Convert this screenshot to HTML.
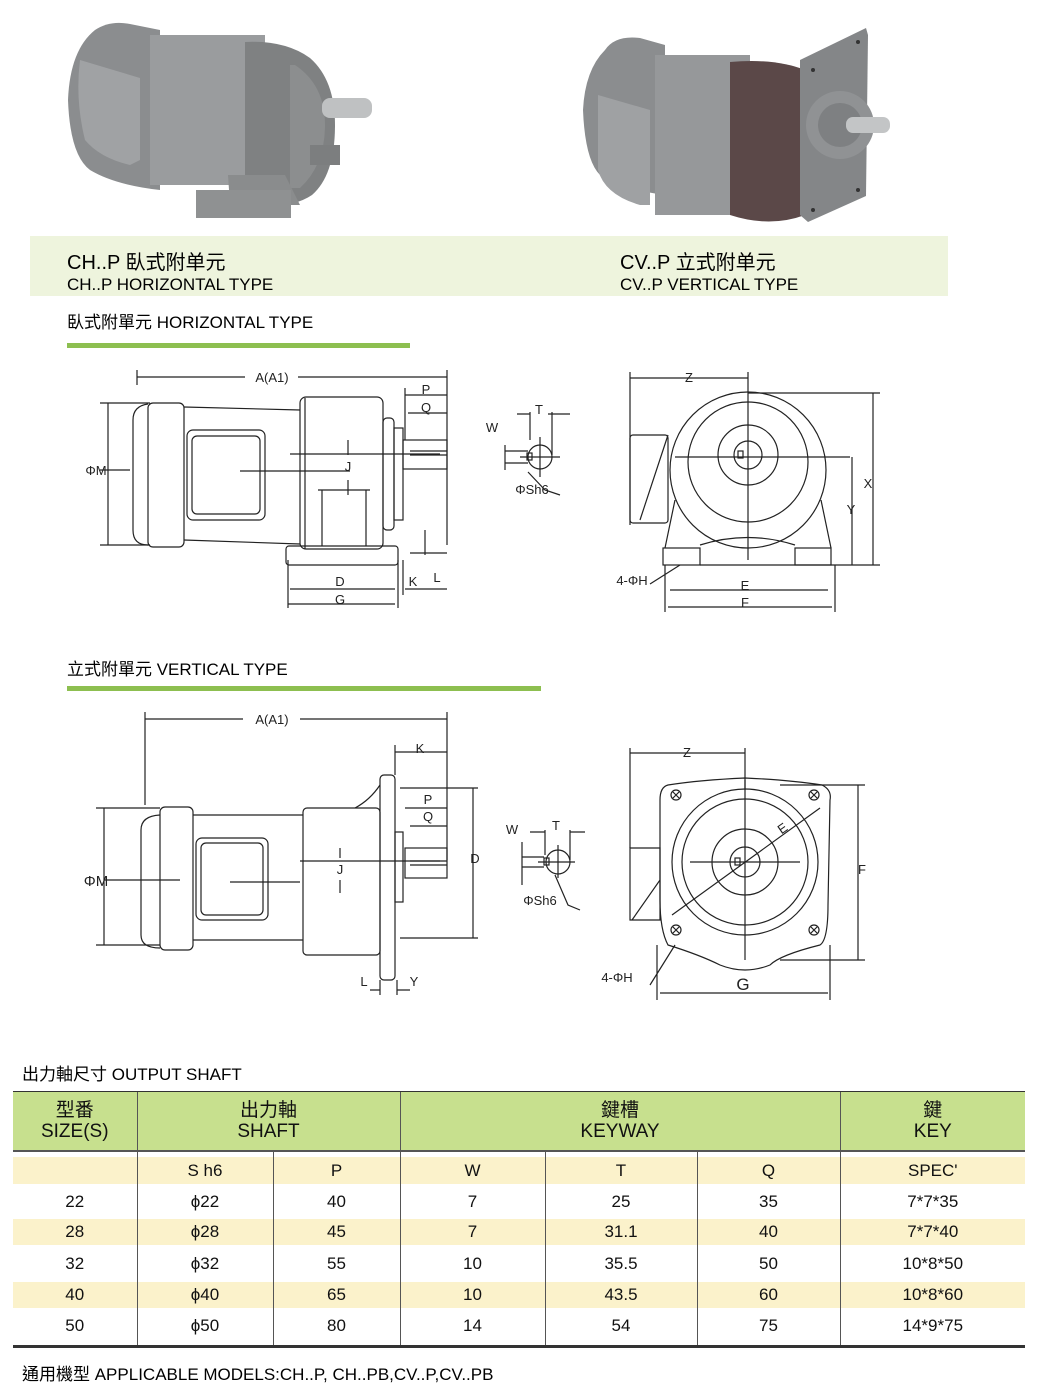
<!DOCTYPE html>
<html><head><meta charset="utf-8"><style>
html,body{margin:0;padding:0;background:#fff;}
body{width:1040px;height:1395px;position:relative;overflow:hidden;font-family:"Liberation Sans","Noto Sans CJK TC",sans-serif;color:#111;}
.abs{position:absolute;}
svg{position:absolute;left:0;top:0;}
table{border-collapse:collapse;table-layout:fixed;}
.tb{position:absolute;left:13px;top:1092px;width:1012px;}
.tb td{text-align:center;font-size:17px;padding:0;}
</style></head><body>
<svg width="1040" height="1395" viewBox="0 0 1040 1395" font-family="Liberation Sans, Noto Sans CJK TC, sans-serif">
<!-- photo 1 horizontal motor -->
<g>
<path d="M95 30 Q110 20 130 24 L160 30 L160 190 Q115 185 90 170 Q70 155 68 100 Q70 50 95 30Z" fill="#8b8d8f"/>
<rect x="150" y="35" width="115" height="150" fill="#9a9c9e"/>
<path d="M80 60 L140 78 L140 160 L130 165 Q100 158 85 140 Q75 100 80 60Z" fill="#a0a2a4"/>
<path d="M245 42 Q285 40 310 58 Q335 80 335 125 Q335 175 312 195 Q290 210 245 205Z" fill="#7f8182"/>
<path d="M295 65 Q325 85 325 125 Q325 165 300 188 L290 188 L290 65Z" fill="#8c8e8f"/>
<rect x="322" y="98" width="50" height="20" rx="8" fill="#bfc1c2"/>
<path d="M228 175 L285 175 L300 205 L230 205Z" fill="#8a8c8d"/>
<rect x="196" y="190" width="95" height="28" fill="#8f9192"/>
<rect x="310" y="145" width="30" height="20" fill="#7c7e7f"/>
</g>
<!-- photo 2 vertical motor -->
<g>
<path d="M605 50 Q615 35 640 38 L665 45 L665 195 Q625 190 600 175 Q585 160 583 110 Q585 70 605 50Z" fill="#8b8d8f"/>
<path d="M598 95 L650 110 L650 205 L640 205 Q605 195 598 170Z" fill="#9fa1a3"/>
<rect x="655" y="55" width="95" height="160" fill="#96989a"/>
<path d="M730 62 Q775 58 805 70 L805 215 Q770 228 730 215Z" fill="#5b4848"/>
<path d="M800 60 L866 28 L868 35 L866 196 L808 222 L800 215Z" fill="#848688"/>
<circle cx="840" cy="125" r="34" fill="#909294"/>
<circle cx="840" cy="125" r="22" fill="#7e8082"/>
<rect x="846" y="117" width="44" height="16" rx="7" fill="#c3c5c6"/>
<circle cx="813" cy="70" r="2" fill="#333"/><circle cx="858" cy="42" r="2" fill="#333"/><circle cx="858" cy="190" r="2" fill="#333"/><circle cx="813" cy="210" r="2" fill="#333"/>
</g>
<!-- caption band -->
<rect x="30" y="236" width="918" height="60" fill="#eef4dd"/>
<text x="67" y="269" font-size="20">CH..P 臥式附单元</text>
<text x="67" y="290" font-size="17">CH..P HORIZONTAL TYPE</text>
<text x="620" y="269" font-size="20">CV..P 立式附单元</text>
<text x="620" y="290" font-size="17">CV..P  VERTICAL TYPE</text>
<text x="67" y="328" font-size="17">臥式附單元 HORIZONTAL TYPE</text>
<rect x="67" y="343" width="343" height="5" fill="#8dbf50"/>
<text x="67" y="675" font-size="17">立式附單元 VERTICAL TYPE</text>
<rect x="67" y="686" width="474" height="5" fill="#8dbf50"/>

<g fill="none" stroke="#222" stroke-width="1.2">
<!-- horizontal side view -->
<path d="M148 404 Q133 406 133 420 L133 530 Q133 545 148 545"/>
<rect x="148" y="403" width="36" height="144" rx="5"/>
<path d="M184 407 L300 410 M184 540 L300 544"/>
<rect x="187" y="430" width="78" height="90" rx="6"/>
<rect x="192" y="436" width="68" height="78" rx="5"/>
<rect x="300" y="397" width="83" height="152" rx="6"/>
<path d="M305 398 L305 549"/>
<rect x="383" y="418" width="11" height="112" rx="4"/>
<rect x="394" y="428" width="9" height="92"/>
<rect x="403" y="440" width="44" height="29"/>
<path d="M410 455 L447 455 M410 451 L447 451"/>
<path d="M318 490 L370 490 M322 490 L322 546 M366 490 L366 546"/>
<rect x="286" y="546" width="112" height="19" rx="3"/>
<path d="M137 370 L137 385 M447 370 L447 545 M108 403 L108 545 M100 403 L150 403 M100 545 L150 545 M100 470 L130 470 M240 471 L350 471"/>
<path d="M137 377 L245 377 M298 377 L447 377"/>
<path d="M405 395 L447 395 M408 413 L447 413 M405 388 L405 440"/>
<path d="M348 440 L348 455 M348 480 L348 495 M290 454 L440 454"/>
<path d="M288 560 L288 608 M398 560 L398 608 M403 560 L403 595 M290 589 L395 589 M288 604 L395 604 M405 589 L447 589 M425 530 L425 555 M410 553 L447 553"/>
<circle cx="540" cy="457" r="12"/>
<path d="M520 457 L560 457 M540 437 L540 477 M505 445 L505 470 M505 451 L528 451 M505 463 L528 463 M517 414 L530 414 M548 414 L570 414 M552 412 L552 455 M530 412 L530 440 M528 472 L545 490 L560 495"/>
<rect x="527" y="453" width="5" height="7"/>
<circle cx="748" cy="470" r="78"/>
<circle cx="748" cy="462" r="60"/>
<circle cx="748" cy="455" r="30"/>
<circle cx="748" cy="455" r="14"/>
<rect x="738" y="451" width="5" height="7"/>
<rect x="630" y="435" width="38" height="88" rx="3"/>
<path d="M668 435 L640 520"/>
<path d="M675 500 L665 548 M821 500 L831 548 M700 545 Q748 530 795 545"/>
<rect x="663" y="548" width="37" height="17"/>
<rect x="795" y="548" width="36" height="17"/>
<path d="M630 372 L630 525 M748 372 L748 560 M630 378 L748 378 M675 457 L850 457 M748 393 L880 393 M873 393 L873 565 M852 457 L852 565 M700 565 L880 565 M665 565 L665 612 M835 565 L835 612 M670 590 L828 590 M668 607 L832 607 M650 584 L680 565"/>
</g>

<g fill="none" stroke="#222" stroke-width="1.2">
<path d="M160 815 Q141 816 141 830 L141 935 Q141 948 160 948"/>
<rect x="160" y="807" width="33" height="143" rx="5"/>
<path d="M193 815 L303 815 M193 940 L303 940"/>
<rect x="196" y="838" width="72" height="82" rx="6"/>
<rect x="201" y="843" width="62" height="72" rx="5"/>
<rect x="303" y="808" width="77" height="147" rx="4"/>
<rect x="380" y="775" width="15" height="205" rx="4"/>
<path d="M355 808 Q370 800 380 785"/>
<rect x="395" y="832" width="8" height="70"/>
<rect x="405" y="848" width="42" height="30"/>
<path d="M410 861 L447 861 M410 865 L447 865"/>
<path d="M145 712 L145 805 M447 712 L447 860 M145 719 L243 719 M300 719 L447 719 M395 745 L395 775 M395 752 L447 752"/>
<path d="M104 808 L104 945 M96 808 L160 808 M96 945 L160 945 M104 880 L180 880 M230 882 L300 882"/>
<path d="M405 808 L447 808 M410 826 L447 826 M400 788 L478 788 M400 938 L478 938 M473 788 L473 938"/>
<path d="M340 848 L340 858 M340 880 L340 893 M300 861 L440 861"/>
<path d="M380 980 L380 995 M397 980 L397 995 M370 990 L380 990 M397 990 L410 990"/>
<circle cx="558" cy="862" r="12"/>
<path d="M538 862 L575 862 M558 845 L558 878 M522 842 L522 885 M522 857 L544 857 M522 867 L544 867 M530 832 L545 832 M570 832 L585 832 M545 830 L545 855 M570 830 L570 860 M555 875 L568 905 L580 910"/>
<rect x="544" y="858" width="5" height="7"/>
<path d="M668 785 Q700 780 745 778 Q790 780 822 785 Q832 790 830 800 L828 905 Q828 940 820 945 Q780 955 770 965 Q745 975 720 965 Q700 955 668 945 Q660 930 660 900 L660 800 Q660 787 668 785Z"/>
<circle cx="745" cy="862" r="73"/>
<circle cx="745" cy="862" r="63"/>
<circle cx="745" cy="862" r="33"/>
<circle cx="745" cy="862" r="15"/>
<rect x="735" y="858" width="5" height="7"/>
<circle cx="676" cy="795" r="5"/><circle cx="814" cy="795" r="5"/><circle cx="676" cy="930" r="5"/><circle cx="814" cy="930" r="5"/>
<path d="M673 792 L679 798 M679 792 L673 798 M811 792 L817 798 M817 792 L811 798 M673 927 L679 933 M679 927 L673 933 M811 927 L817 933 M817 927 L811 933"/>
<path d="M630 848 L660 848 L660 920 L630 920 Z M660 880 L632 920"/>
<path d="M672 915 L820 808 M690 862 L800 862 M745 780 L745 960"/>
<path d="M630 748 L630 848 M630 753 L745 753 M745 748 L745 790 M780 785 L865 785 M780 960 L865 960 M858 785 L858 960 M657 945 L657 1000 M830 945 L830 1000 M660 993 L828 993 M650 985 L675 945"/>
</g>

<g font-size="13" fill="#222" text-anchor="middle">
<text x="272" y="382">A(A1)</text><text x="426" y="394">P</text><text x="426" y="412">Q</text>
<text x="96" y="475">ΦM</text><text x="348" y="471">J</text><text x="340" y="586">D</text><text x="340" y="604">G</text>
<text x="413" y="586">K</text><text x="437" y="582">L</text>
<text x="492" y="432">W</text><text x="539" y="414">T</text><text x="532" y="494">ΦSh6</text>
<text x="689" y="382">Z</text><text x="868" y="488">X</text><text x="851" y="514">Y</text>
<text x="745" y="590">E</text><text x="745" y="607">F</text><text x="632" y="585">4-ΦH</text>
<text x="272" y="724">A(A1)</text><text x="420" y="753">K</text><text x="428" y="804">P</text><text x="428" y="821">Q</text>
<text x="96" y="886" font-size="15">ΦM</text><text x="340" y="874">J</text><text x="475" y="863">D</text>
<text x="364" y="986">L</text><text x="414" y="986">Y</text>
<text x="512" y="834">W</text><text x="556" y="830">T</text><text x="540" y="905">ΦSh6</text>
<text x="687" y="757">Z</text><text x="862" y="874">F</text><text x="785" y="832" transform="rotate(-35 785 832)">E</text>
<text x="617" y="982">4-ΦH</text><text x="743" y="990" font-size="17">G</text>
</g>
<text x="22" y="1080" font-size="17">出力軸尺寸 OUTPUT SHAFT</text>
<text x="22" y="1380" font-size="17">通用機型 APPLICABLE MODELS:CH..P, CH..PB,CV..P,CV..PB</text>
</svg>

<div class="abs" style="left:13px;top:1091px;width:1012px;height:2px;background:#333"></div>
<table class="tb">
<colgroup><col style="width:124px"><col style="width:136px"><col style="width:127px"><col style="width:145px"><col style="width:152px"><col style="width:143px"><col style="width:185px"></colgroup>
<tr style="background:#c7e08e;height:59px;border-bottom:2px solid #555">
<td style="font-size:19px;line-height:21px;border-right:1px solid #555">型番<br>SIZE(S)</td>
<td colspan="2" style="font-size:19px;line-height:21px;border-right:1px solid #555">出力軸<br>SHAFT</td>
<td colspan="3" style="font-size:19px;line-height:21px;border-right:1px solid #555">鍵槽<br>KEYWAY</td>
<td style="font-size:19px;line-height:21px">鍵<br>KEY</td>
</tr>
<tr style="height:6px"><td style="border-right:1px solid #555"></td><td style="border-right:1px solid #555"></td><td style="border-right:1px solid #555"></td><td style="border-right:1px solid #555"></td><td style="border-right:1px solid #555"></td><td style="border-right:1px solid #555"></td><td></td></tr>
<tr style="background:#fbf2cb;height:27px;font-size:15px"><td style="border-right:1px solid #555"></td><td style="border-right:1px solid #555">S h6</td><td style="border-right:1px solid #555">P</td><td style="border-right:1px solid #555">W</td><td style="border-right:1px solid #555">T</td><td style="border-right:1px solid #555">Q</td><td>SPEC'</td></tr>
<tr style="height:35px"><td style="border-right:1px solid #555">22</td><td style="border-right:1px solid #555">ϕ22</td><td style="border-right:1px solid #555">40</td><td style="border-right:1px solid #555">7</td><td style="border-right:1px solid #555">25</td><td style="border-right:1px solid #555">35</td><td>7*7*35</td></tr>
<tr style="height:26px;background:#fbf2cb"><td style="border-right:1px solid #555">28</td><td style="border-right:1px solid #555">ϕ28</td><td style="border-right:1px solid #555">45</td><td style="border-right:1px solid #555">7</td><td style="border-right:1px solid #555">31.1</td><td style="border-right:1px solid #555">40</td><td>7*7*40</td></tr>
<tr style="height:37px"><td style="border-right:1px solid #555">32</td><td style="border-right:1px solid #555">ϕ32</td><td style="border-right:1px solid #555">55</td><td style="border-right:1px solid #555">10</td><td style="border-right:1px solid #555">35.5</td><td style="border-right:1px solid #555">50</td><td>10*8*50</td></tr>
<tr style="height:26px;background:#fbf2cb"><td style="border-right:1px solid #555">40</td><td style="border-right:1px solid #555">ϕ40</td><td style="border-right:1px solid #555">65</td><td style="border-right:1px solid #555">10</td><td style="border-right:1px solid #555">43.5</td><td style="border-right:1px solid #555">60</td><td>10*8*60</td></tr>
<tr style="height:38px;border-bottom:3px solid #333"><td style="border-right:1px solid #555">50</td><td style="border-right:1px solid #555">ϕ50</td><td style="border-right:1px solid #555">80</td><td style="border-right:1px solid #555">14</td><td style="border-right:1px solid #555">54</td><td style="border-right:1px solid #555">75</td><td>14*9*75</td></tr>
</table>
</body></html>
